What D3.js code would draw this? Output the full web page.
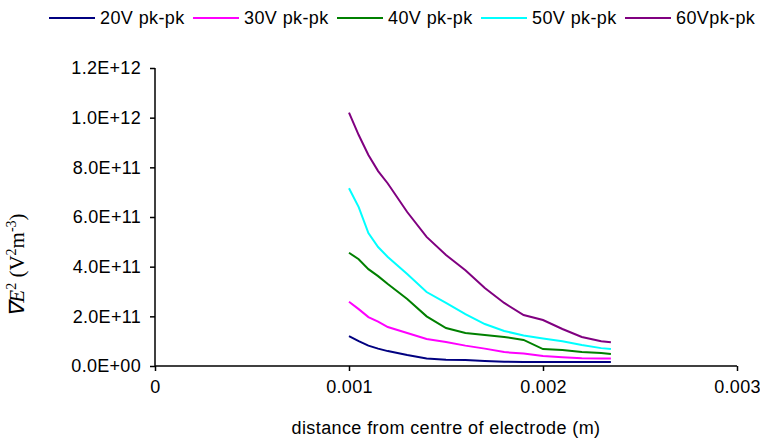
<!DOCTYPE html>
<html>
<head>
<meta charset="utf-8">
<script src="https://cdn.jsdelivr.net/npm/d3@7"></script>
<style>
  body { margin: 0; background: #fff; }
  text { font-family: "Liberation Sans", Arial, sans-serif; }
</style>
</head>
<body>
<div id="chart"></div>
<script>
//Data
var distances = [0.001, 0.00105, 0.0011, 0.00115, 0.0012, 0.0013, 0.0014, 0.0015, 0.0016,
                 0.0017, 0.0018, 0.0019, 0.002, 0.0021, 0.0022, 0.0023, 0.00235];
var seriesNames = ["20V pk-pk", "30V pk-pk", "40V pk-pk", "50V pk-pk", "60Vpk-pk"];
var v20 = [1.2e11, 1.0e11, 8.2e10, 7.0e10, 6.0e10, 4.4e10, 3.0e10, 2.5e10, 2.4e10,
           2.0e10, 1.7e10, 1.6e10, 1.6e10, 1.6e10, 1.6e10, 1.6e10, 1.6e10];
var v30 = [2.59e11, 2.29e11, 1.97e11, 1.79e11, 1.57e11, 1.33e11, 1.09e11, 9.7e10, 8.2e10,
           7.0e10, 5.6e10, 5.0e10, 4.0e10, 3.5e10, 3.1e10, 3.0e10, 3.0e10];
var v40 = [4.56e11, 4.3e11, 3.9e11, 3.62e11, 3.3e11, 2.7e11, 2.0e11, 1.53e11, 1.33e11,
           1.25e11, 1.17e11, 1.05e11, 6.8e10, 6.4e10, 5.6e10, 5.2e10, 4.8e10];
var v50 = [7.16e11, 6.4e11, 5.35e11, 4.79e11, 4.39e11, 3.7e11, 2.98e11, 2.54e11, 2.09e11,
           1.69e11, 1.41e11, 1.23e11, 1.11e11, 1.0e11, 8.5e10, 7.2e10, 6.8e10];
var v60 = [1.02e12, 9.3e11, 8.5e11, 7.85e11, 7.35e11, 6.2e11, 5.2e11, 4.47e11, 3.86e11,
           3.14e11, 2.54e11, 2.05e11, 1.85e11, 1.49e11, 1.17e11, 1.0e11, 9.6e10];
var xTicks = [0, 0.001, 0.002, 0.003];
var yTicks = [0, 2e11, 4e11, 6e11, 8e11, 1e12, 1.2e12];
var yTickLabels = ["0.0E+00", "2.0E+11", "4.0E+11", "6.0E+11", "8.0E+11", "1.0E+12", "1.2E+12"];

var seriesValues = [v20, v30, v40, v50, v60];
var colors = d3.scaleOrdinal()
               .domain(seriesNames)
               .range(["#000080", "#ff00ff", "#008000", "#00ffff", "#800080"]);

//Set margins and sizes
var margin = { top: 68, right: 23, bottom: 72, left: 155 };
var width = 760, height = 438;
var plotW = width - margin.left - margin.right;
var plotH = height - margin.top - margin.bottom;

var x = d3.scaleLinear().domain([0, 0.003]).range([0, plotW]);
var y = d3.scaleLinear().domain([0, 1.2e12]).range([plotH, 0]);

var svg = d3.select("#chart").append("svg")
            .attr("width", width)
            .attr("height", height);

var g = svg.append("g")
           .attr("transform", "translate(" + margin.left + "," + margin.top + ")");

//Axes
var xAxis = g.append("g")
             .attr("transform", "translate(0," + plotH + ")")
             .call(d3.axisBottom(x).tickValues(xTicks).tickSize(5).tickPadding(9)
                   .tickFormat(function(d){ return d === 0 ? "0" : d3.format(".3f")(d); }));
var yAxis = g.append("g")
             .call(d3.axisLeft(y).tickValues(yTicks).tickSize(5).tickPadding(9)
                   .tickFormat(function(d, i){ return yTickLabels[i]; }));
g.selectAll(".domain").attr("stroke", "#000").attr("stroke-width", 1.5);
g.selectAll(".tick line").attr("stroke", "#000").attr("stroke-width", 1.5);
g.selectAll(".tick text")
 .attr("fill", "#000")
 .style("font-family", "'Liberation Sans', Arial, sans-serif")
 .style("font-size", "18px")
 .style("letter-spacing", "0.3px");
xAxis.select(".domain").attr("d", "M0,0H" + plotW);
yAxis.select(".domain").attr("d", "M0," + plotH + "V0");

//Lines
var line = d3.line()
             .x(function(d, i){ return x(distances[i]); })
             .y(function(d){ return y(d); });

g.append("g").attr("class", "lines")
 .selectAll("path")
 .data(seriesValues)
 .enter()
 .append("path")
 .attr("d", line)
 .attr("fill", "none")
 .attr("stroke", function(d, i){ return colors(seriesNames[i]); })
 .attr("stroke-width", 2);

//Axis titles
svg.append("text")
   .attr("x", 446)
   .attr("y", 434)
   .attr("text-anchor", "middle")
   .style("font-size", "18px")
   .style("letter-spacing", "0.4px")
   .text("distance from centre of electrode (m)");

var yTitle = svg.append("text")
   .attr("transform", "translate(24,265) rotate(-90)")
   .attr("text-anchor", "middle")
   .style("font-family", "'Liberation Serif', 'Times New Roman', serif")
   .style("font-size", "21px");
yTitle.append("tspan").style("font-style", "italic").text("\u2207E");
yTitle.append("tspan").attr("dy", -8).style("font-size", "14px").text("2");
yTitle.append("tspan").attr("dy", 8).text(" (V");
yTitle.append("tspan").attr("dy", -8).style("font-size", "14px").text("2");
yTitle.append("tspan").attr("dy", 8).text("m");
yTitle.append("tspan").attr("dy", -8).style("font-size", "14px").text("-3");
yTitle.append("tspan").attr("dy", 8).text(")");

//Legend
var legend = svg.append("g").attr("class", "legend")
                .selectAll("g")
                .data(seriesNames)
                .enter()
                .append("g")
                .attr("transform", function(d, i){ return "translate(" + (49 + i * 144) + ",18)"; });
legend.append("line")
      .attr("x1", 0).attr("x2", 46)
      .attr("stroke", function(d){ return colors(d); })
      .attr("stroke-width", 2);
legend.append("text")
      .attr("x", 51)
      .attr("dy", "0.35em")
      .style("font-size", "18px")
      .style("letter-spacing", "0.4px")
      .text(function(d){ return d; });
</script>
</body>
</html>
